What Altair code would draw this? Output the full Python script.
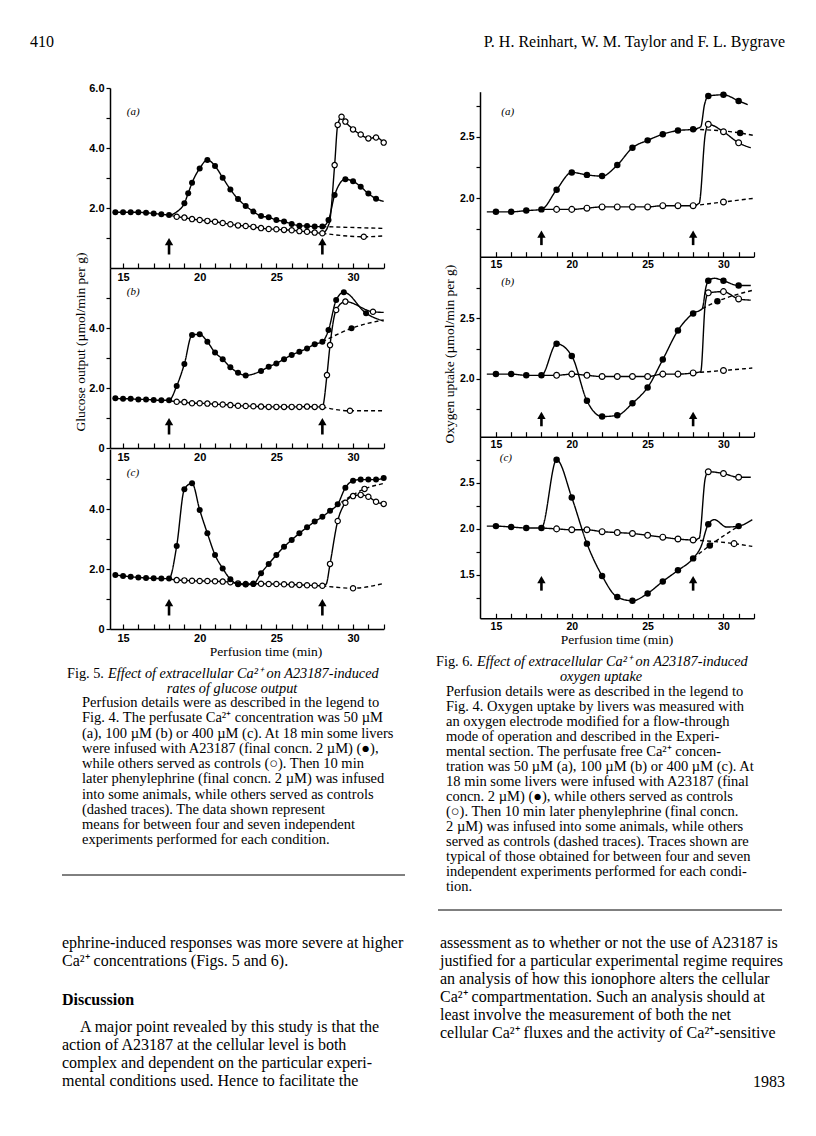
import altair as alt
import pandas as pd

f, o, n = "f", "o", ""   # marker codes: filled circle, open circle, no marker

# ---------------- Fig. 5 : glucose output (umol/min per g) ----------------
F5A_FILLED = [(14.5,1.86,f),(15,1.86,f),(15.5,1.86,f),(16,1.86,f),(16.5,1.84,f),(17,1.82,f),(17.5,1.79,f),(18,1.77,f),
              (18.5,1.87,n),(19,2.16,f),(19.25,2.49,f),(19.5,2.84,f),(20,3.32,f),(20.5,3.60,f),(21,3.40,f),(21.5,3.01,f),
              (22,2.62,f),(22.5,2.30,f),(23,2.07,f),(23.5,1.88,f),(24,1.73,f),(24.5,1.69,f),(25,1.60,f),(25.5,1.55,f),
              (26,1.47,f),(26.5,1.41,f),(27,1.40,f),(27.5,1.38,f),(28,1.38,f),(28.4,1.60,f),(28.8,2.43,f),(29.5,2.96,f),
              (30,2.89,f),(30.5,2.71,f),(31,2.48,f),(31.5,2.31,f),(32,2.22,n)]
F5A_OPEN = [(18,1.77,n),(18.5,1.71,o),(19,1.68,o),(19.5,1.63,o),(20,1.60,o),(20.5,1.57,o),(21,1.54,o),(21.5,1.50,o),
            (22,1.46,o),(22.5,1.42,o),(23,1.40,o),(23.5,1.37,o),(24,1.33,o),(24.5,1.30,o),(25,1.29,o),(25.5,1.27,o),
            (26,1.26,o),(26.5,1.23,o),(27,1.21,o),(27.5,1.18,o),(28,1.16,o),(28.45,1.50,n),(28.8,3.43,o),(29,4.77,o),
            (29.25,5.04,o),(29.5,4.88,o),(30,4.62,o),(30.5,4.45,o),(31,4.32,o),(31.5,4.35,o),(32,4.18,o)]
F5A_FILLED_DASH = [(28,1.38,n),(32,1.32,n)]
F5A_OPEN_DASH = [(28,1.16,n),(30.7,1.04,o),(32,1.07,n)]

F5B_FILLED = [(14.5,1.66,f),(15,1.64,f),(15.5,1.64,f),(16,1.62,f),(16.5,1.62,f),(17,1.60,f),(17.5,1.59,f),(18,1.59,f),
              (18.5,2.07,f),(19,2.80,f),(19.5,3.77,f),(20,3.79,f),(20.5,3.54,f),(21,3.18,f),(21.5,2.96,f),(22,2.69,f),
              (22.5,2.51,f),(23,2.42,f),(24,2.57,f),(24.5,2.71,f),(25,2.82,f),(25.5,2.96,f),(26,3.10,f),(26.5,3.21,f),
              (27,3.32,f),(27.5,3.46,f),(28,3.54,f),(28.4,3.93,f),(28.9,4.93,f),(29.4,5.19,f),(30.85,4.49,f),(32,4.23,n)]
F5B_OPEN = [(18,1.59,n),(18.5,1.54,o),(19,1.53,o),(19.5,1.49,o),(20,1.49,o),(20.5,1.48,o),(21,1.46,o),(21.5,1.45,o),
            (22,1.43,o),(22.5,1.41,o),(23,1.40,o),(23.5,1.39,o),(24,1.38,o),(24.5,1.37,o),(25,1.37,o),(25.5,1.37,o),
            (26,1.37,o),(26.5,1.37,o),(27,1.38,o),(27.5,1.37,o),(28,1.37,o),(28.3,2.43,o),(28.5,3.43,o),(28.9,4.60,o),
            (29.5,4.88,o),(31.3,4.54,o),(32,4.52,n)]
F5B_FILLED_DASH = [(28,3.54,n),(29.9,3.99,f),(32,4.27,n)]
F5B_OPEN_DASH = [(28,1.37,n),(29.8,1.24,o),(32,1.24,n)]

F5C_FILLED = [(14.5,1.80,f),(15,1.77,f),(15.5,1.74,f),(16,1.72,f),(16.5,1.70,f),(17,1.69,f),(17.5,1.68,f),(18,1.68,f),
              (18.5,2.77,f),(19,4.66,f),(19.5,4.86,f),(20,3.97,f),(20.5,3.19,f),(21,2.47,f),(21.5,2.02,f),(22,1.66,f),
              (22.5,1.49,f),(23,1.48,f),(23.5,1.50,f),(24,1.86,f),(24.5,2.17,f),(25,2.47,f),(25.5,2.74,f),(26,2.97,f),
              (26.5,3.19,f),(27,3.39,f),(27.5,3.58,f),(28,3.74,f),(28.5,3.94,f),(29,4.16,f),(29.5,4.71,f),(30,4.94,f),
              (30.5,4.98,f),(31,4.98,f),(31.5,4.98,f),(32,5.03,f)]
F5C_OPEN = [(18,1.68,n),(18.5,1.63,o),(19,1.62,o),(19.5,1.61,o),(20,1.60,o),(20.5,1.60,o),(21,1.59,o),(21.5,1.58,o),
            (22,1.56,o),(22.5,1.52,o),(23,1.50,o),(23.5,1.51,o),(24,1.51,o),(24.5,1.50,o),(25,1.50,o),(25.5,1.49,o),
            (26,1.48,o),(26.5,1.47,o),(27,1.46,o),(27.5,1.45,o),(28,1.44,o),(28.25,1.50,n),(28.5,2.17,o),(29,3.60,o),
            (29.5,4.21,o),(30,4.43,o),(30.5,4.47,o),(31,4.41,o),(31.5,4.24,o),(32,4.17,o)]
F5C_FILLED_DASH = [(28.5,3.94,n),(30.75,4.67,o),(32,4.85,n)]
F5C_OPEN_DASH = [(28,1.44,n),(30,1.36,o),(32,1.52,n)]

# ---------------- Fig. 6 : oxygen uptake (umol/min per g) ----------------
F6A_FILLED = [(14.4,1.89,n),(15,1.89,f),(16,1.89,f),(17,1.90,f),(18,1.91,f),(19,2.07,f),(20,2.21,f),(21,2.19,f),(22,2.18,f),
              (23,2.27,f),(24,2.41,f),(25,2.47,f),(26,2.52,f),(27,2.55,f),(28,2.56,f),(28.5,2.58,n),(28.75,2.76,n),
              (29,2.83,f),(30,2.84,f),(31,2.79,f),(31.6,2.76,n)]
F6A_OPEN = [(18,1.91,n),(19,1.91,o),(20,1.91,o),(21,1.92,o),(22,1.93,o),(23,1.93,o),(24,1.93,o),(25,1.93,o),(26,1.94,o),
            (27,1.94,o),(28,1.94,o),(28.4,1.96,n),(28.8,2.52,n),(29,2.60,o),(30,2.54,o),(31,2.45,o),(31.8,2.41,n)]
F6A_FILLED_DASH = [(28,2.56,n),(31.1,2.53,f),(32,2.51,n)]
F6A_OPEN_DASH = [(28,1.94,n),(30,1.97,o),(32,2.00,n)]

F6B_FILLED = [(14.4,2.04,n),(15,2.04,f),(16,2.04,f),(17,2.03,f),(18,2.03,f),(19,2.29,f),(20,2.19,f),(21,1.82,f),(22,1.69,f),
              (23,1.70,f),(24,1.80,f),(25,1.93,f),(26,2.16,f),(27,2.40,f),(28,2.54,f),(28.6,2.58,n),(28.85,2.76,n),
              (29,2.81,f),(29.4,2.83,n),(30,2.81,f),(31,2.77,f),(31.8,2.77,n)]
F6B_OPEN = [(18,2.03,n),(19,2.03,o),(20,2.04,o),(21,2.03,o),(22,2.02,o),(23,2.02,o),(24,2.02,o),(25,2.02,o),(26,2.04,o),
            (27,2.04,o),(28,2.05,o),(28.5,2.06,n),(28.8,2.62,n),(29,2.71,o),(30,2.72,o),(31,2.66,o),(31.8,2.65,n)]
F6B_FILLED_DASH = [(28.6,2.58,n),(29.6,2.64,f),(31.9,2.73,n)]
F6B_OPEN_DASH = [(28,2.05,n),(30,2.07,o),(31.9,2.09,n)]

F6C_FILLED = [(14.4,2.03,n),(15,2.03,f),(16,2.02,f),(17,2.01,f),(18,2.01,f),(19,2.75,f),(20,2.34,f),(21,1.84,f),(22,1.49,f),
              (23,1.26,f),(24,1.22,f),(25,1.30,f),(26,1.43,f),(27,1.55,f),(28,1.68,f),(28.5,1.80,n),(29,2.05,f),
              (29.4,2.10,n),(30.2,2.02,n),(31,2.03,f),(31.9,2.10,n)]
F6C_OPEN = [(18,2.01,n),(19,2.00,o),(20,1.99,o),(21,1.99,o),(22,1.97,o),(23,1.96,o),(24,1.95,o),(25,1.93,o),(26,1.91,o),
            (27,1.89,o),(28,1.88,o),(28.4,1.90,n),(28.8,2.55,n),(29,2.62,o),(30,2.60,o),(31,2.56,o),(31.8,2.56,n)]
F6C_FILLED_DASH = [(28,1.68,n),(29.1,1.82,f),(31,2.03,n)]
F6C_OPEN_DASH = [(28,1.88,n),(30.7,1.84,o),(31.9,1.81,n)]

ARROW_T = [18, 28]                       # infusion times (min)
X_TICKS = list(range(15, 33))
F5_YTICKS_A = [1, 2, 3, 4, 5, 6]
F5_YTICKS_BC = [0, 1, 2, 3, 4, 5]
F6_YTICKS_AB = [1.75, 2.0, 2.25, 2.5, 2.75]
F6_YTICKS_C = [1.25, 1.5, 1.75, 2.0, 2.25, 2.5, 2.75]

HEADER_LEFT = "410"
HEADER_RIGHT = "P. H. Reinhart, W. M. Taylor and F. L. Bygrave"
F5_YTITLE = "Glucose output (µmol/min per g)"
F6_YTITLE = "Oxygen uptake (µmol/min per g)"
XTITLE = "Perfusion time (min)"

F5_CAP_FIG = "Fig. 5."
F5_CAP_TITLE1 = "Effect of extracellular Ca²⁺ on A23187-induced"
F5_CAP_TITLE2 = "rates of glucose output"
F5_CAP_BODY = [
    "Perfusion details were as described in the legend to",
    "Fig. 4. The perfusate Ca²⁺ concentration was 50 µM",
    "(a), 100 µM (b) or 400 µM (c). At 18 min some livers",
    "were infused with A23187 (final concn. 2 µM) (●),",
    "while others served as controls (○). Then 10 min",
    "later phenylephrine (final concn. 2 µM) was infused",
    "into some animals, while others served as controls",
    "(dashed traces).  The  data  shown  represent",
    "means for between four and seven independent",
    "experiments performed for each condition.",
]
F6_CAP_FIG = "Fig. 6."
F6_CAP_TITLE1 = "Effect of extracellular Ca²⁺ on A23187-induced"
F6_CAP_TITLE2 = "oxygen uptake"
F6_CAP_BODY = [
    "Perfusion details were as described in the legend to",
    "Fig. 4. Oxygen uptake by livers was measured with",
    "an oxygen electrode modified for a flow-through",
    "mode of operation and described in the Experi-",
    "mental section. The perfusate free Ca²⁺ concen-",
    "tration was 50 µM (a), 100 µM (b) or 400 µM (c). At",
    "18 min some livers were infused with A23187 (final",
    "concn. 2 µM) (●), while others served as controls",
    "(○). Then 10 min later phenylephrine (final concn.",
    "2 µM) was infused into some animals, while others",
    "served as controls (dashed traces). Traces shown are",
    "typical of those obtained for between four and seven",
    "independent experiments performed for each condi-",
    "tion.",
]
BODY_LEFT_TOP = ["ephrine-induced responses was more severe at higher",
                 "Ca²⁺ concentrations (Figs. 5 and 6)."]
BODY_HEADING = "Discussion"
BODY_LEFT_PARA_FIRST = "A major point revealed by this study is that the"
BODY_LEFT_PARA = ["action of A23187 at the cellular level is both",
                  "complex and dependent on the particular experi-",
                  "mental conditions used. Hence to facilitate the"]
BODY_RIGHT = ["assessment as to whether or not the use of A23187 is",
              "justified for a particular experimental regime requires",
              "an analysis of how this ionophore alters the cellular",
              "Ca²⁺ compartmentation. Such an analysis should at",
              "least involve the measurement of both the net",
              "cellular Ca²⁺ fluxes and the activity of Ca²⁺-sensitive"]
PAGE_NO = "1983"

SERIF = "Liberation Serif"
SANS = "Liberation Sans"
DASH_SCALE = alt.Scale(domain=["solid", "dashed"], range=[[1, 0], [4, 3]])
ONE = pd.DataFrame({"k": [0]})


def series_df(named):
    rows = []
    for name, dash, pts in named:
        for t, v, mk in pts:
            rows.append({"t": t, "v": v, "mk": mk, "s": name, "dash": dash})
    return pd.DataFrame(rows)


def panel(named, xdom, xrng, ydom, yrng, yticks, ylabel_expr, x_axis_y, y_axis_x,
          arrow_base, arrow_head, label, label_t, label_v, pt_size, tick_fs):
    df = series_df(named)
    xs = alt.Scale(domain=xdom, range=xrng, nice=False, zero=False)
    ys = alt.Scale(domain=ydom, range=yrng, nice=False, zero=False)
    xax = alt.Axis(orient="top", offset=-x_axis_y, values=X_TICKS,
                   labelExpr="datum.value % 5 == 0 ? datum.value : ''",
                   title=None, grid=False, domainColor="black", domainWidth=1.5,
                   tickColor="black", tickWidth=1.2, tickSize=5, labelPadding=-8,
                   labelBaseline="top", labelFont=SANS, labelFontWeight="bold",
                   labelFontSize=tick_fs, labelColor="black", labelFlush=False,
                   labelOverlap=False, labelAngle=0)
    yax = alt.Axis(orient="left", offset=-y_axis_x, values=yticks, labelExpr=ylabel_expr,
                   title=None, grid=False, domainColor="black", domainWidth=1.5,
                   tickColor="black", tickWidth=1.2, tickSize=4, labelPadding=2,
                   labelFont=SANS, labelFontWeight="bold", labelFontSize=tick_fs,
                   labelColor="black", labelFlush=False, labelOverlap=False)
    X = alt.X("t:Q", scale=xs, axis=xax)
    Y = alt.Y("v:Q", scale=ys, axis=yax)
    base = alt.Chart(df)
    lines = base.mark_line(interpolate="monotone", color="black", strokeWidth=1.4).encode(
        x=X, y=Y, detail="s:N",
        strokeDash=alt.StrokeDash("dash:N", scale=DASH_SCALE, legend=None))
    opens = base.transform_filter(alt.datum.mk == "o").mark_point(
        shape="circle", filled=True, fill="white", stroke="black", strokeWidth=1.2,
        size=pt_size, opacity=1).encode(x=X, y=Y)
    fills = base.transform_filter(alt.datum.mk == "f").mark_point(
        shape="circle", filled=True, color="black", size=pt_size + 8, opacity=1).encode(x=X, y=Y)
    arr = pd.DataFrame({"t": ARROW_T, "v": [arrow_base] * len(ARROW_T), "v2": [arrow_head] * len(ARROW_T)})
    shaft = alt.Chart(arr).mark_rule(color="black", strokeWidth=2.6).encode(x=X, y=Y, y2="v2:Q")
    head = alt.Chart(arr).mark_point(shape="triangle-up", filled=True, color="black", size=70,
                                     opacity=1).encode(x=X, y=alt.Y("v2:Q", scale=ys, axis=yax))
    lab = alt.Chart(pd.DataFrame({"t": [label_t], "v": [label_v]})).mark_text(
        font=SERIF, fontStyle="italic", fontSize=11, align="left", baseline="middle",
        color="black").encode(x=X, y=Y, text=alt.value(label))
    return alt.layer(lines, opens, fills, shaft, head, lab)


def txt(text, x, y, size, align="left", baseline="alphabetic", style="normal", weight="normal",
        angle=0, lh=None, font=SERIF):
    kw = dict(font=font, fontSize=size, align=align, baseline=baseline, fontStyle=style,
              fontWeight=weight, angle=angle, color="black")
    if lh is not None:
        kw["lineHeight"] = lh
    return alt.Chart(ONE).mark_text(**kw).encode(x=alt.value(x), y=alt.value(y), text=alt.value(text))


XD5, XR5 = [14.15, 32], [102, 375.7]
XD6, XR6 = [13.95, 32], [472, 745.8]
F5_LBL = "datum.value == 0 ? '0' : (datum.value % 2 == 0 ? format(datum.value, '.1f') : '')"
F6_LBL = "(datum.value * 2) % 1 == 0 ? format(datum.value, '.1f') : ''"


def f5(fl, op, fld, opd):
    return [("F", "solid", fl), ("O", "solid", op), ("FD", "dashed", fld), ("OD", "dashed", opd)]


p5a = panel(f5(F5A_FILLED, F5A_OPEN, F5A_FILLED_DASH, F5A_OPEN_DASH), XD5, XR5, [0, 6], [260, 80],
            F5_YTICKS_A, F5_LBL, 260, 102, 0.45, 0.88, "(a)", 15.25, 5.2, 28, 11)
p5b = panel(f5(F5B_FILLED, F5B_OPEN, F5B_FILLED_DASH, F5B_OPEN_DASH), XD5, XR5, [0, 6], [440, 260],
            F5_YTICKS_BC, F5_LBL, 440, 102, 0.45, 0.88, "(b)", 15.25, 5.2, 28, 11)
p5c = panel(f5(F5C_FILLED, F5C_OPEN, F5C_FILLED_DASH, F5C_OPEN_DASH), XD5, XR5, [0, 6], [621, 441],
            F5_YTICKS_BC, F5_LBL, 621, 102, 0.45, 0.88, "(c)", 15.25, 5.2, 28, 11)

p6a = panel(f5(F6A_FILLED, F6A_OPEN, F6A_FILLED_DASH, F6A_OPEN_DASH), XD6, XR6, [1.526, 2.865], [248.7, 83.7],
            F6_YTICKS_AB, F6_LBL, 248.7, 472, 1.62, 1.71, "(a)", 15.35, 2.70, 34, 10.5)
p6b = panel(f5(F6B_FILLED, F6B_OPEN, F6B_FILLED_DASH, F6B_OPEN_DASH), XD6, XR6, [1.524, 3.008], [428.7, 248.7],
            F6_YTICKS_AB, F6_LBL, 428.7, 472, 1.61, 1.70, "(b)", 15.35, 2.80, 34, 10.5)
p6c = panel(f5(F6C_FILLED, F6C_OPEN, F6C_FILLED_DASH, F6C_OPEN_DASH), XD6, XR6, [1.030, 3.0], [610.3, 428.7],
            F6_YTICKS_C, F6_LBL, 610.3, 472, 1.33, 1.45, "(c)", 15.25, 2.77, 34, 10.5)

texts = [
    txt(HEADER_LEFT, 22, 39, 16),
    txt(HEADER_RIGHT, 777, 39, 16, align="right"),
    txt(F5_YTITLE, 73, 334, 13.5, align="center", baseline="middle", angle=270),
    txt(F6_YTITLE, 442, 346, 13.5, align="center", baseline="middle", angle=270),
    txt(XTITLE, 258, 644, 13.5, align="center", baseline="middle"),
    txt(XTITLE, 609, 632, 13.5, align="center", baseline="middle"),
    # Fig. 5 caption
    txt(F5_CAP_FIG, 59, 670, 14.3),
    txt(F5_CAP_TITLE1, 100, 670, 14.3, style="italic"),
    txt(F5_CAP_TITLE2, 224, 685, 14.3, align="center", style="italic"),
    txt(F5_CAP_BODY, 74, 699, 14.5, lh=15.25),
    # Fig. 6 caption
    txt(F6_CAP_FIG, 428, 658, 14.3),
    txt(F6_CAP_TITLE1, 469, 658, 14.3, style="italic"),
    txt(F6_CAP_TITLE2, 593, 673, 14.3, align="center", style="italic"),
    txt(F6_CAP_BODY, 438, 688, 14.5, lh=15),
    # body text
    txt(BODY_LEFT_TOP, 54, 940, 16, lh=18),
    txt(BODY_HEADING, 54, 997, 16, weight="bold"),
    txt(BODY_LEFT_PARA_FIRST, 72, 1024, 16),
    txt(BODY_LEFT_PARA, 54, 1042, 16, lh=18),
    txt(BODY_RIGHT, 432, 940, 16, lh=18),
    txt(PAGE_NO, 777, 1079, 16, align="right"),
]

rules = [
    alt.Chart(ONE).mark_rule(color="black", strokeWidth=1).encode(
        x=alt.value(54), x2=alt.value(397), y=alt.value(867)),
    alt.Chart(ONE).mark_rule(color="black", strokeWidth=1).encode(
        x=alt.value(430), x2=alt.value(774), y=alt.value(902)),
]

chart = alt.layer(p5a, p5b, p5c, p6a, p6b, p6c, *texts, *rules).resolve_scale(
    x="independent", y="independent"
).properties(
    width=800, height=1120, padding=0, background="white",
    autosize=alt.AutoSizeParams(type="none"),
).configure_view(stroke=None)

chart.save("out.html", embed_options={"renderer": "svg", "actions": False})
